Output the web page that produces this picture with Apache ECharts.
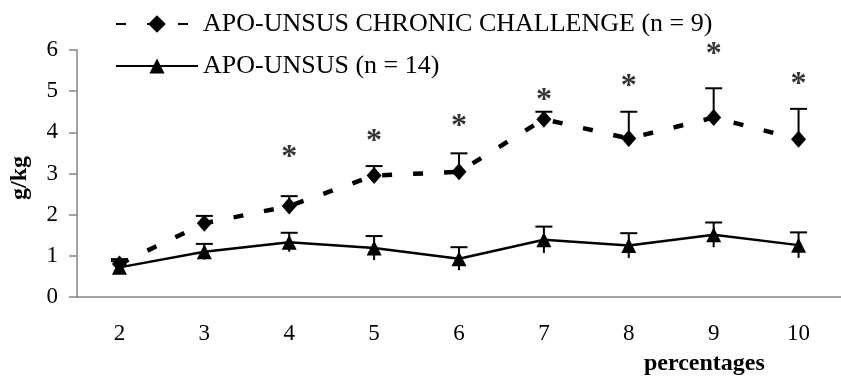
<!DOCTYPE html>
<html>
<head>
<meta charset="utf-8">
<script src="https://cdn.jsdelivr.net/npm/echarts@6/dist/echarts.min.js"></script>
<style>
html,body{margin:0;padding:0;background:#fff;}
#chart{width:841px;height:377px;}
</style>
</head>
<body>
<div id="chart"></div>
<script>
const categories = ['2', '3', '4', '5', '6', '7', '8', '9', '10'];
const chronicName = 'APO-UNSUS CHRONIC CHALLENGE (n = 9)';
const unsusName = 'APO-UNSUS (n = 14)';
const chronicMean = [0.80, 1.79, 2.21, 2.95, 3.04, 4.32, 3.85, 4.36, 3.83];
const chronicErr = [0.12, 0.18, 0.24, 0.23, 0.45, 0.18, 0.65, 0.71, 0.74];
const unsusMean = [0.72, 1.10, 1.33, 1.19, 0.93, 1.39, 1.25, 1.51, 1.26];
const unsusErr = [0.15, 0.19, 0.23, 0.29, 0.28, 0.32, 0.30, 0.30, 0.31];
const asteriskCats = ['4', '5', '6', '7', '8', '9', '10'];
const asteriskY = [3.57, 3.96, 4.34, 4.96, 5.31, 6.08, 5.35];
const yTicks = [0, 1, 2, 3, 4, 5, 6];

const FONT = "'Liberation Serif', 'Times New Roman', serif";

const chronicErrData = chronicMean.map((m, i) => [i, m, m + chronicErr[i], m]);
const unsusErrData = unsusMean.map((m, i) => [i, m, m + unsusErr[i], m - unsusErr[i]]);

function errRender(params, api) {
  const top = api.coord([api.value(0), api.value(2)]);
  const bot = api.coord([api.value(0), api.value(3)]);
  const half = 8.5;
  return {
    type: 'group',
    children: [
      { type: 'line', shape: { x1: top[0], y1: top[1], x2: bot[0], y2: bot[1] }, style: { stroke: '#000', lineWidth: 2 } },
      { type: 'line', shape: { x1: top[0] - half, y1: top[1], x2: top[0] + half, y2: top[1] }, style: { stroke: '#000', lineWidth: 2 } }
    ]
  };
}

const chart = echarts.init(document.getElementById('chart'), null, { renderer: 'canvas' });
chart.setOption({
  animation: false,
  backgroundColor: '#fff',
  textStyle: { fontFamily: FONT, color: '#000' },
  grid: { left: 77, top: 50, height: 247, width: 780, containLabel: false },
  legend: [
    {
      data: [chronicName], left: 110, top: 6, itemWidth: 82, itemHeight: 22,
      textStyle: { fontFamily: FONT, fontSize: 26, color: '#000' }
    },
    {
      data: [unsusName], left: 110, top: 48, itemWidth: 82, itemHeight: 19,
      textStyle: { fontFamily: FONT, fontSize: 26, color: '#000' }
    }
  ],
  xAxis: {
    type: 'category',
    data: categories,
    boundaryGap: true,
    axisLine: { lineStyle: { color: '#858585', width: 1.5 } },
    axisTick: { show: false },
    axisLabel: { fontFamily: FONT, fontSize: 23, color: '#000', margin: 25 },
    splitLine: { show: false }
  },
  yAxis: {
    type: 'value',
    min: 0, max: 6, interval: 1,
    axisLine: { show: true, lineStyle: { color: '#858585', width: 1.5 } },
    axisTick: { show: true, inside: false, length: 8, lineStyle: { color: '#858585', width: 1.5 } },
    axisLabel: { fontFamily: FONT, fontSize: 23, color: '#000', margin: 19, formatter: v => yTicks.includes(v) ? String(v) : '' },
    splitLine: { show: false }
  },
  graphic: [
    { type: 'text', left: 644, top: 352, style: { text: 'percentages', font: "bold 24px 'Liberation Serif', serif", fill: '#000' } },
    { type: 'text', x: 20, y: 178, rotation: Math.PI / 2, style: { text: 'g/kg', font: "bold 24px 'Liberation Serif', serif", fill: '#000', textAlign: 'center', textVerticalAlign: 'middle' } }
  ],
  series: [
    {
      type: 'custom', name: 'errChronic', renderItem: errRender, data: chronicErrData,
      encode: { x: 0, y: [1, 2, 3] }, z: 1, silent: true
    },
    {
      type: 'custom', name: 'errUnsus', renderItem: errRender, data: unsusErrData,
      encode: { x: 0, y: [1, 2, 3] }, z: 1, silent: true
    },
    {
      type: 'line', name: chronicName, data: chronicMean,
      symbol: 'diamond', symbolSize: [15, 17], showSymbol: true,
      itemStyle: { color: '#000' },
      lineStyle: { color: '#000', width: 4.5, type: [10, 21], cap: 'butt' },
      z: 3
    },
    {
      type: 'line', name: unsusName, data: unsusMean,
      symbol: 'triangle', symbolSize: [15, 15], showSymbol: true,
      itemStyle: { color: '#000' },
      lineStyle: { color: '#000', width: 2.5 },
      z: 3
    },
    {
      type: 'scatter', name: 'sig', clip: false,
      data: asteriskCats.map((c, i) => [c, asteriskY[i]]),
      symbolSize: 0,
      label: { show: true, formatter: '*', position: 'inside', fontFamily: FONT, fontWeight: 'bold', fontSize: 32, color: '#000', offset: [0, 8] },
      z: 4, silent: true
    }
  ]
});
</script>
</body>
</html>
